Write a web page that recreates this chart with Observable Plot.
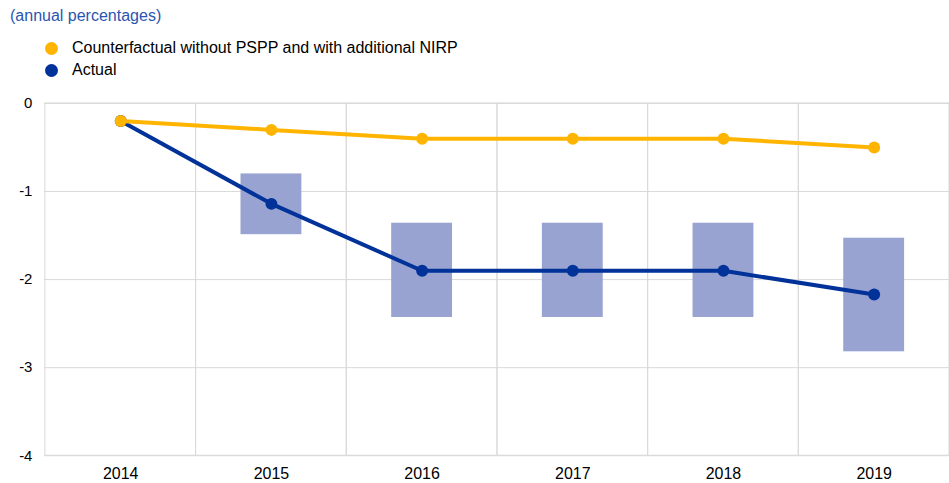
<!DOCTYPE html>
<html>
<head>
<meta charset="utf-8">
<script src="https://cdn.jsdelivr.net/npm/d3@7"></script>
<script src="https://cdn.jsdelivr.net/npm/@observablehq/plot@0.6"></script>
<style>
  body { margin: 0; background: #fff; font-family: "Liberation Sans", Arial, sans-serif; }
  #wrap { position: relative; width: 949px; height: 483px; overflow: hidden; }
  #title { position: absolute; left: 10px; top: 7px; font-size: 16px; line-height: 18px; color: #2a55b0; }
  .leg { position: absolute; left: 45px; font-size: 16px; line-height: 18px; color: #000; display: flex; align-items: center; }
  .leg span.dot { display: inline-block; width: 13px; height: 13px; border-radius: 50%; margin-right: 14px; }
  #chart { position: absolute; left: 0; top: 90px; }
</style>
</head>
<body>
<div id="wrap">
  <div id="title">(annual percentages)</div>
  <div class="leg" style="top:39px"><span class="dot" style="background:#FFB400"></span>Counterfactual without PSPP and with additional NIRP</div>
  <div class="leg" style="top:61px"><span class="dot" style="background:#003299"></span>Actual</div>
  <div id="chart"></div>
</div>
<script>
const years = ["2014", "2015", "2016", "2017", "2018", "2019"];
const counterfactual = [-0.2, -0.3, -0.4, -0.4, -0.4, -0.5];
const actual = [-0.2, -1.14, -1.9, -1.9, -1.9, -2.17];
const rangeLow = [-0.2, -1.49, -2.43, -2.43, -2.43, -2.82];
const rangeHigh = [-0.2, -0.8, -1.36, -1.36, -1.36, -1.53];
const yTicks = [0, -1, -2, -3, -4];

const cf = years.map((y, i) => ({year: y, value: counterfactual[i]}));
const ac = years.map((y, i) => ({year: y, value: actual[i]}));
const rg = years.map((y, i) => ({year: y, low: rangeLow[i], high: rangeHigh[i]}));

const chart = Plot.plot({
  width: 951,
  height: 393,
  marginLeft: 44,
  marginRight: 0,
  marginTop: 13,
  marginBottom: 27,
  style: {fontFamily: "Liberation Sans, Arial, sans-serif", fontSize: "15px", color: "#000", background: "#fff", overflow: "visible"},
  x: {type: "band", domain: years, padding: 0, label: null, axis: null},
  y: {domain: [-4, 0], label: null, axis: null},
  marks: [
    Plot.barY(years, {x: d => d, y1: -4, y2: 0, fill: "none", stroke: "#d9d9d9", strokeWidth: 1}),
    Plot.ruleY(yTicks, {stroke: "#d9d9d9", strokeWidth: 1}),
    Plot.axisX({tickSize: 0, tickPadding: 12, fontSize: 16, label: null}),
    Plot.axisY(yTicks, {tickSize: 0, tickPadding: 12, fontSize: 15, label: null, tickFormat: d => String(d)}),
    Plot.barY(rg.filter(d => d.low !== d.high), {x: "year", y1: "low", y2: "high", fill: "#99a3d1", insetLeft: 45, insetRight: 45}),
    Plot.barY(rg.filter(d => d.low === d.high), {x: "year", y1: "low", y2: "high", stroke: "#dcdcdc", strokeWidth: 1, insetLeft: 45, insetRight: 45}),
    Plot.line(ac, {x: "year", y: "value", stroke: "#003299", strokeWidth: 4}),
    Plot.dot(ac, {x: "year", y: "value", fill: "#003299", r: 6}),
    Plot.line(cf, {x: "year", y: "value", stroke: "#FFB400", strokeWidth: 4}),
    Plot.dot(cf, {x: "year", y: "value", fill: "#FFB400", r: 6})
  ]
});
document.getElementById("chart").appendChild(chart);
</script>
</body>
</html>
